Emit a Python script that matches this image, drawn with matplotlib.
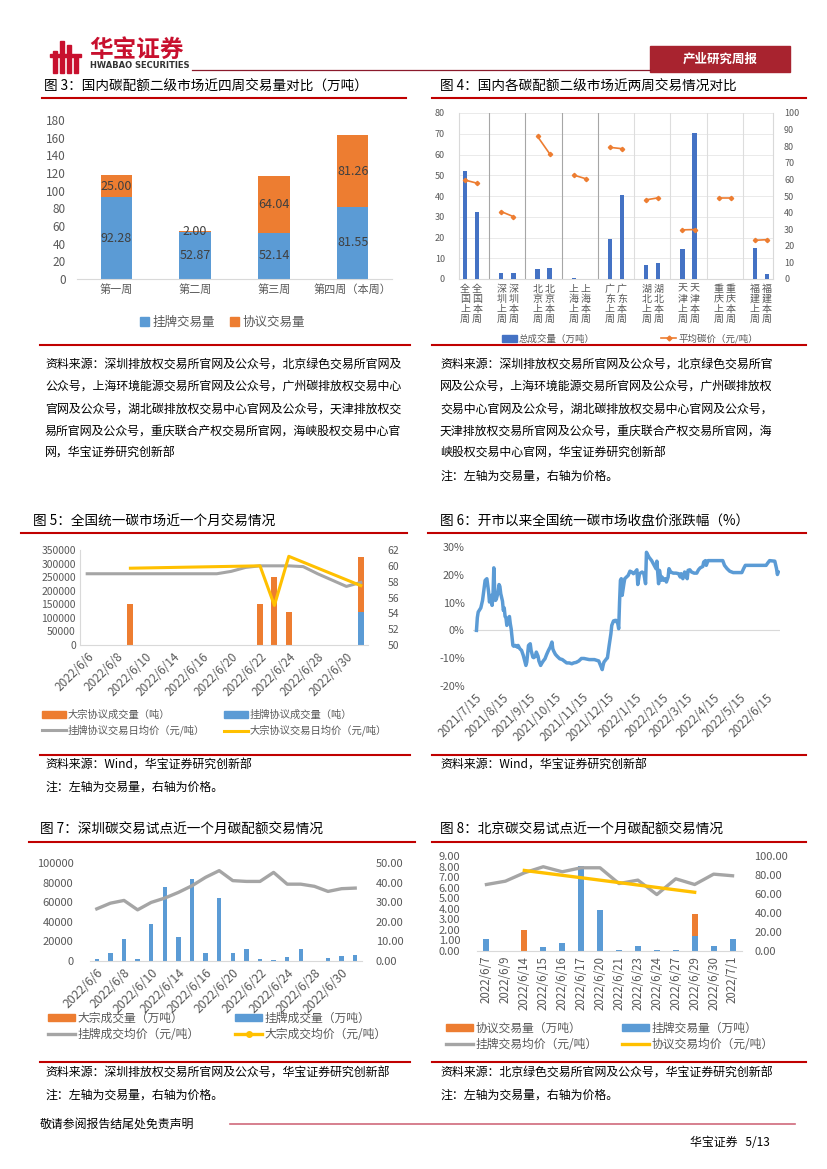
import numpy as np
import pandas as pd
import matplotlib
matplotlib.use('Agg')
import matplotlib.pyplot as plt
from matplotlib.lines import Line2D
from matplotlib.patches import Patch, Rectangle

plt.rcParams['font.family'] = ['Noto Sans CJK SC', 'DejaVu Sans']

W, H = 827, 1169
RED = '#C00000'
BLUE = '#5B9BD5'
ORANGE = '#ED7D31'
GRAY = '#A5A5A5'
YELLOW = '#FFC000'
TICK = '#595959'

# ---- figure 3: four-week volumes (万吨)
weeks = ['第一周', '第二周', '第三周', '第四周（本周）']
listed_wk = [92.28, 52.87, 52.14, 81.55]
agree_wk = [25.00, 2.00, 64.04, 81.26]

# ---- figure 4: pilot markets, last week vs this week
markets = ['全国', '深圳', '北京', '上海', '广东', '湖北', '天津', '重庆', '福建']
vol_last = [52.2, 2.7, 4.7, 0.5, 19.3, 6.8, 14.3, 0.0, 15.0]
vol_this = [32.4, 2.8, 5.2, 0.0, 40.3, 7.7, 70.6, 0.0, 2.4]
price_last = [59.6, 40.6, 85.9, 62.6, 79.3, 47.7, 29.6, 48.9, 23.3]
price_this = [57.7, 37.6, 75.5, 60.4, 78.5, 48.9, 29.8, 48.9, 23.7]

# ---- figure 5 / 7: trading days
days_jun = ['2022/6/6', '2022/6/7', '2022/6/8', '2022/6/9', '2022/6/10', '2022/6/13',
            '2022/6/14', '2022/6/15', '2022/6/16', '2022/6/17', '2022/6/20', '2022/6/21',
            '2022/6/22', '2022/6/23', '2022/6/24', '2022/6/27', '2022/6/28', '2022/6/29',
            '2022/6/30', '2022/7/1']
block_vol5 = [0, 0, 0, 150000, 0, 0, 0, 0, 0, 0, 0, 0, 150000, 250000, 120000, 0, 0, 0, 0, 203000]
listed_vol5 = [0, 0, 0, 0, 0, 0, 0, 0, 0, 0, 0, 0, 0, 0, 0, 0, 0, 0, 0, 122000]
listed_price5 = [59.0, 59.0, 59.0, 59.0, 59.0, 59.0, 59.0, 59.0, 59.0, 59.0, 59.3, 59.8,
                 60.0, 60.0, 60.0, 59.9, 59.0, 58.2, 57.4, 57.9]
block_price5 = [None, None, None, 59.7, None, None, None, None, None, None, None, None,
                60.0, 55.0, 61.2, None, None, None, None, 57.5]

listed_vol7 = [1700, 8500, 22200, 1700, 37500, 75400, 24200, 83600, 7800, 64200,
               7800, 11900, 1700, 1000, 3800, 12300, 300, 2700, 5500, 6100]
block_vol7 = [0] * 20
listed_price7 = [26.6, 29.5, 30.9, 26.1, 29.9, 32.1, 35.0, 38.4, 42.7, 46.1,
                 41.0, 40.6, 40.6, 45.2, 39.2, 39.2, 38.1, 35.5, 36.9, 37.2]

# ---- figure 6: close price change since opening (%), days after 2021/7/15
days6 = [1, 2, 3, 6, 8, 10, 11, 13, 14, 15, 16, 18, 19, 20, 21, 22, 23, 24, 26, 27, 28, 29,
         31, 32, 33, 34, 35, 36, 38, 39, 40, 41, 42, 43, 44, 46, 48, 49, 51, 53, 55, 56, 58,
         59, 60, 61, 63, 64, 66, 67, 69, 70, 72, 73, 75, 76, 78, 80, 82, 84, 86, 88, 89, 90,
         92, 94, 97, 100, 102, 105, 108, 111, 113, 116, 119, 122, 125, 128, 131, 134, 137,
         140, 142, 144, 146, 147, 148, 149, 151, 152, 154, 156, 157, 159, 161, 162, 164, 165,
         166, 167, 168, 169, 171, 172, 174, 176, 178, 180, 182, 184, 186, 187, 189, 190, 192,
         194, 196, 197, 198, 200, 203, 206, 208, 209, 211, 212, 214, 215, 217, 219, 220, 222,
         223, 225, 228, 231, 234, 236, 237, 239, 241, 242, 244, 245, 247, 249, 252, 255, 257,
         259, 262, 263, 265, 266, 268, 274, 282, 285, 287, 290, 293, 297, 307, 309, 311, 320,
         335, 337, 339, 345, 347, 348, 349]
chg6 = [0.0, 4.6, 6.6, 8.1, 10.8, 15.6, 18.0, 18.6, 16.2, 13.8, 10.2, 12.6, 9.0, 12.0, 22.5,
        14.4, 10.8, 11.4, 13.8, 16.5, 15.8, 13.2, 10.5, 7.2, 8.1, 5.0, 4.6, 1.8, 4.2, 5.0, 2.4,
        0.6, -2.4, -5.4, -5.7, -5.4, -6.0, -5.4, -6.6, -7.2, -9.0, -10.2, -12.6, -11.4, -8.4,
        -5.4, -4.8, -7.2, -9.6, -9.8, -9.3, -7.8, -9.3, -11.0, -12.6, -12.0, -11.0, -10.2,
        -8.6, -7.2, -6.0, -4.2, -6.6, -7.4, -8.6, -9.3, -10.2, -10.5, -11.0, -11.7, -11.7,
        -12.0, -11.7, -11.5, -11.0, -10.1, -10.1, -10.3, -10.5, -10.5, -10.5, -10.8, -11.0,
        -12.6, -14.1, -12.6, -11.4, -11.0, -10.2, -9.9, -5.4, -1.2, 1.8, 3.4, 3.6, 3.6, 2.4,
        0.6, 10.2, 18.0, 18.6, 12.6, 16.8, 18.6, 19.2, 19.8, 21.3, 21.0, 20.4, 21.0, 21.8,
        16.5, 20.4, 20.6, 21.0, 20.4, 16.8, 28.1, 27.5, 26.3, 25.1, 23.4, 22.2, 24.9, 16.8,
        21.6, 18.0, 19.2, 18.0, 18.6, 17.4, 19.2, 22.2, 21.0, 20.6, 20.6, 20.4, 19.2, 20.4,
        18.6, 21.0, 20.4, 18.6, 21.6, 21.8, 21.0, 20.6, 20.6, 21.8, 22.5, 23.0, 24.6, 25.1,
        23.4, 25.1, 25.1, 25.1, 25.1, 23.4, 22.2, 21.3, 20.8, 20.8, 22.2, 23.4, 23.4, 23.4,
        24.3, 25.1, 24.9, 22.2, 20.1, 21.0]
month_ticks6 = ['2021/7/15', '2021/8/15', '2021/9/15', '2021/10/15', '2021/11/15', '2021/12/15',
                '2022/1/15', '2022/2/15', '2022/3/15', '2022/4/15', '2022/5/15', '2022/6/15']

# ---- figure 8: Beijing pilot
days8 = ['2022/6/7', '2022/6/9', '2022/6/14', '2022/6/15', '2022/6/16', '2022/6/17', '2022/6/20',
         '2022/6/21', '2022/6/23', '2022/6/24', '2022/6/27', '2022/6/29', '2022/6/30', '2022/7/1']
listed_vol8 = [1.15, 0.03, 0.0, 0.35, 0.73, 8.05, 3.91, 0.10, 0.44, 0.06, 0.06, 1.45, 0.44, 1.14]
agree_vol8 = [0, 0, 1.95, 0, 0, 0, 0, 0, 0, 0, 0, 2.05, 0, 0]
listed_price8 = [70.0, 73.5, 82.3, 88.7, 83.4, 87.6, 87.6, 71.0, 74.6, 59.4, 76.0, 70.0, 80.9, 79.2]
agree_price8 = [None, None, 84.8, None, None, None, None, None, None, None, None, 61.8, None, None]

src_34_left = ['资料来源：深圳排放权交易所官网及公众号，北京绿色交易所官网及',
               '公众号，上海环境能源交易所官网及公众号，广州碳排放权交易中心',
               '官网及公众号，湖北碳排放权交易中心官网及公众号，天津排放权交',
               '易所官网及公众号，重庆联合产权交易所官网，海峡股权交易中心官',
               '网，华宝证券研究创新部']
src_34_right = ['资料来源：深圳排放权交易所官网及公众号，北京绿色交易所官',
                '网及公众号，上海环境能源交易所官网及公众号，广州碳排放权',
                '交易中心官网及公众号，湖北碳排放权交易中心官网及公众号，',
                '天津排放权交易所官网及公众号，重庆联合产权交易所官网，海',
                '峡股权交易中心官网，华宝证券研究创新部',
                '注：左轴为交易量，右轴为价格。']
note = '注：左轴为交易量，右轴为价格。'

fig = plt.figure(figsize=(W / 100, H / 100), dpi=100)
fig.patch.set_facecolor('white')


def px_axes(x0, y0, x1, y1):
    return fig.add_axes([x0 / W, 1 - y1 / H, (x1 - x0) / W, (y1 - y0) / H])


def hline(x0, x1, y, color=RED, lw=1.5):
    fig.add_artist(Line2D([x0 / W, x1 / W], [1 - y / H, 1 - y / H],
                          transform=fig.transFigure, color=color, lw=lw))


def ftext(x, y, s, **kw):
    kw.setdefault('va', 'center')
    kw.setdefault('ha', 'left')
    fig.text(x / W, 1 - y / H, s, **kw)


def clean(ax, left=False, bottom=True):
    for side in ['top', 'right', 'left', 'bottom']:
        ax.spines[side].set_visible(False)
    if bottom:
        ax.spines['bottom'].set_visible(True)
        ax.spines['bottom'].set_color('#D9D9D9')
    if left:
        ax.spines['left'].set_visible(True)
        ax.spines['left'].set_color('#D9D9D9')
    ax.tick_params(length=0, colors=TICK)


def legend_at(handles, labels, x, y, size, **kw):
    leg = fig.legend(handles, labels, loc='upper left', bbox_to_anchor=(x / W, 1 - y / H),
                     frameon=False, fontsize=size, borderaxespad=0, borderpad=0,
                     labelcolor=TICK, **kw)
    return leg


# ---------------- header ----------------
for bx, bh in [(53, 22), (60, 32), (67, 28), (74, 18)]:
    fig.add_artist(Rectangle((bx / W, 1 - 73 / H), 3.5 / W, bh / H, transform=fig.transFigure,
                             color='#C8102E'))
fig.add_artist(Rectangle((50 / W, 1 - 57 / H), 31 / W, 3 / H, transform=fig.transFigure,
                         color='#C8102E'))
ftext(89, 50, '华宝证券', fontsize=17, color='#C8102E', fontweight='bold')
ftext(90, 66, 'HWABAO SECURITIES', fontsize=6, color='#333333', fontweight='bold',
      family='DejaVu Sans')
hline(192, 650, 70, color='#8B1A2B', lw=0.9)
fig.add_artist(Rectangle((650 / W, 1 - 72 / H), 140 / W, 26 / H, transform=fig.transFigure,
                         color='#A8232F'))
ftext(720, 59, '产业研究周报', fontsize=9, color='white', ha='center', fontweight='bold')

# ---------------- titles ----------------
TS = 9.8
ftext(44, 86, '图 3：国内碳配额二级市场近四周交易量对比（万吨）', fontsize=TS)
ftext(440, 86, '图 4：国内各碳配额二级市场近两周交易情况对比', fontsize=TS)
hline(42, 406, 98)
hline(432, 806, 98)
ftext(33, 521, '图 5：全国统一碳市场近一个月交易情况', fontsize=TS)
ftext(440, 521, '图 6：开市以来全国统一碳市场收盘价涨跌幅（%）', fontsize=TS)
hline(21, 407, 533)
hline(428, 806, 533)
ftext(40, 829, '图 7：深圳碳交易试点近一个月碳配额交易情况', fontsize=TS)
ftext(440, 829, '图 8：北京碳交易试点近一个月碳配额交易情况', fontsize=TS)
hline(29, 415, 842)
hline(432, 806, 842)

# ---------------- figure 3 ----------------
ax3 = px_axes(77, 120, 392, 279)
x3 = np.arange(len(weeks))
b1 = ax3.bar(x3, listed_wk, width=0.4, color=BLUE)
b2 = ax3.bar(x3, agree_wk, width=0.4, bottom=listed_wk, color=ORANGE)
ax3.bar_label(b1, fmt='%.2f', label_type='center', fontsize=9, color='#404040')
ax3.bar_label(b2, fmt='%.2f', label_type='center', fontsize=9, color='#404040')
ax3.set_ylim(0, 180)
ax3.set_xlim(-0.5, 3.5)
ax3.set_yticks(range(0, 181, 20))
ax3.set_xticks(x3)
ax3.set_xticklabels(weeks, fontsize=8)
ax3.tick_params(axis='y', labelsize=8.5, pad=8)
clean(ax3)
legend_at([Patch(color=BLUE), Patch(color=ORANGE)], ['挂牌交易量', '协议交易量'], 140, 316, 9,
          ncol=2, handlelength=0.7, handleheight=0.7, handletextpad=0.3, columnspacing=1.2)

# ---------------- figure 4 ----------------
ax4 = px_axes(459, 113, 773, 279)
pos_last = [3 * g for g in range(len(markets))]
pos_this = [3 * g + 1 for g in range(len(markets))]
ax4.bar(pos_last, vol_last, width=0.36, color='#4472C4', zorder=3)
ax4.bar(pos_this, vol_this, width=0.36, color='#4472C4', zorder=3)
ax4.set_xlim(-0.5, 25.5)
ax4.set_ylim(0, 80)
ax4.set_yticks(range(0, 81, 10))
ax4.yaxis.grid(True, color='#E6E6E6', lw=0.6)
ax4.set_axisbelow(True)
for g in range(len(markets) - 1):
    ax4.axvline(3 * g + 2, color='#A6A6A6' if g < 4 else '#DDDDDD', lw=0.8, zorder=2)
ticks4 = []
labels4 = []
for g, m in enumerate(markets):
    ticks4 += [3 * g, 3 * g + 1]
    labels4 += ['\n'.join(m + '上周'), '\n'.join(m + '本周')]
ax4.set_xticks(ticks4)
ax4.set_xticklabels(labels4, fontsize=7.2, linespacing=1.0)
ax4.tick_params(axis='y', labelsize=6.5, pad=10)
clean(ax4, left=True)
ax4.spines['right'].set_visible(True)
ax4.spines['right'].set_color('#D9D9D9')
ax4b = ax4.twinx()
for g in range(len(markets)):
    ax4b.plot([pos_last[g], pos_this[g]], [price_last[g], price_this[g]], color=ORANGE, lw=1.2,
              marker='D', markersize=2.2)
ax4b.set_ylim(0, 100)
ax4b.set_yticks(range(0, 101, 10))
ax4b.tick_params(axis='y', labelsize=6.5, pad=8)
clean(ax4b, bottom=False)
legend_at([Patch(color='#4472C4'), Line2D([], [], color=ORANGE, marker='D', markersize=2.5, lw=1.2)],
          ['总成交量（万吨）', '平均碳价（元/吨）'], 502, 334, 6.8, ncol=2,
          handlelength=1.6, handleheight=0.7, handletextpad=0.2, columnspacing=7.0)

# source text 3/4
SS = 8.6
hline(40, 410, 345)
hline(432, 806, 345)
for i, s in enumerate(src_34_left):
    ftext(45, 364 + 22.4 * i, s, fontsize=SS)
for i, s in enumerate(src_34_right):
    ftext(440, 364 + 22.4 * i, s, fontsize=SS)

# ---------------- figure 5 ----------------
ax5 = px_axes(80, 550, 368, 645)
x5 = np.arange(len(days_jun))
ax5.bar(x5, listed_vol5, width=0.42, color=BLUE)
ax5.bar(x5, block_vol5, width=0.42, bottom=listed_vol5, color=ORANGE)
ax5.set_xlim(-0.5, 19.5)
ax5.set_ylim(0, 350000)
ax5.set_yticks(range(0, 350001, 50000))
ax5.set_xticks(x5[::2])
ax5.set_xticklabels(days_jun[::2], rotation=45, ha='right', rotation_mode='anchor', fontsize=8.5)
ax5.tick_params(axis='y', labelsize=7.5, pad=3)
clean(ax5, left=True)
ax5b = ax5.twinx()
ax5b.plot(x5, listed_price5, color=GRAY, lw=2.2)
bp = [(i, v) for i, v in enumerate(block_price5) if v is not None]
ax5b.plot([p[0] for p in bp], [p[1] for p in bp], color=YELLOW, lw=2.2)
ax5b.set_ylim(50, 62)
ax5b.set_yticks(range(50, 63, 2))
ax5b.tick_params(axis='y', labelsize=7.5, pad=14)
clean(ax5b, bottom=False)
legend_at([Patch(color=ORANGE), Line2D([], [], color=GRAY, lw=2.2)],
          ['大宗协议成交量（吨）', '挂牌协议交易日均价（元/吨）'], 42, 710, 7.4,
          handlelength=2.3, handleheight=0.55, handletextpad=0.2, labelspacing=0.45)
legend_at([Patch(color=BLUE), Line2D([], [], color=YELLOW, lw=2.2)],
          ['挂牌协议成交量（吨）', '大宗协议交易日均价（元/吨）'], 224, 710, 7.4,
          handlelength=2.3, handleheight=0.55, handletextpad=0.2, labelspacing=0.45)

# ---------------- figure 6 ----------------
ax6 = px_axes(473, 547, 780, 686)
base6 = pd.Timestamp('2021-07-15')
dates6 = base6 + pd.to_timedelta(days6, unit='D')
ax6.plot(dates6, chg6, color=BLUE, lw=2.5, zorder=3)
ax6.axhline(0, color='#D9D9D9', lw=0.8, zorder=1)
ax6.set_ylim(-20, 30)
ax6.set_yticks(range(-20, 31, 10))
ax6.set_yticklabels([f'{v}%' for v in range(-20, 31, 10)])
ax6.set_xlim(base6 - pd.Timedelta(days=3), base6 + pd.Timedelta(days=351))
ax6.set_xticks(pd.to_datetime(month_ticks6, format='%Y/%m/%d'))
ax6.set_xticklabels(month_ticks6, rotation=45, ha='right', rotation_mode='anchor', fontsize=8.5)
ax6.tick_params(axis='y', labelsize=7.8, pad=6)
clean(ax6, bottom=False)

hline(40, 410, 755)
hline(432, 806, 755)
ftext(45, 765, '资料来源：Wind，华宝证券研究创新部', fontsize=SS)
ftext(45, 787, note, fontsize=SS)
ftext(440, 765, '资料来源：Wind，华宝证券研究创新部', fontsize=SS)

# ---------------- figure 7 ----------------
ax7 = px_axes(90, 863, 362, 961)
x7 = np.arange(len(days_jun))
ax7.bar(x7, listed_vol7, width=0.32, color=BLUE)
ax7.bar(x7, block_vol7, width=0.32, bottom=listed_vol7, color=ORANGE)
ax7.set_xlim(-0.5, 19.5)
ax7.set_ylim(0, 100000)
ax7.set_yticks(range(0, 100001, 20000))
ax7.set_xticks(x7[::2])
ax7.set_xticklabels(days_jun[::2], rotation=45, ha='right', rotation_mode='anchor', fontsize=8.8)
ax7.tick_params(axis='y', labelsize=8, pad=12)
clean(ax7)
ax7b = ax7.twinx()
ax7b.plot(x7, listed_price7, color=GRAY, lw=2.4)
ax7b.set_ylim(0, 50)
ax7b.set_yticks(range(0, 51, 10))
ax7b.set_yticklabels([f'{v:.2f}' for v in range(0, 51, 10)])
ax7b.tick_params(axis='y', labelsize=8, pad=10)
clean(ax7b, bottom=False)
legend_at([Patch(color=ORANGE), Line2D([], [], color=GRAY, lw=2.4)],
          ['大宗成交量（万吨）', '挂牌成交均价（元/吨）'], 48, 1012, 8.5,
          handlelength=2.3, handleheight=0.5, handletextpad=0.2, labelspacing=0.25)
legend_at([Patch(color=BLUE), Line2D([], [], color=YELLOW, lw=2.4, marker='o', markersize=4)],
          ['挂牌成交量（万吨）', '大宗成交均价（元/吨）'], 235, 1012, 8.5,
          handlelength=2.3, handleheight=0.5, handletextpad=0.2, labelspacing=0.25)

# ---------------- figure 8 ----------------
ax8 = px_axes(477, 856, 742, 951)
x8 = np.arange(len(days8))
ax8.bar(x8, listed_vol8, width=0.32, color=BLUE)
ax8.bar(x8, agree_vol8, width=0.32, bottom=listed_vol8, color=ORANGE)
ax8.set_xlim(-0.5, 13.5)
ax8.set_ylim(0, 9)
ax8.set_yticks(range(0, 10))
ax8.set_yticklabels([f'{v:.2f}' for v in range(0, 10)])
ax8.set_xticks(x8)
ax8.set_xticklabels(days8, rotation=90, fontsize=8.3)
ax8.tick_params(axis='y', labelsize=8, pad=12)
clean(ax8)
ax8b = ax8.twinx()
ax8b.plot(x8, listed_price8, color=GRAY, lw=2.4)
ap = [(i, v) for i, v in enumerate(agree_price8) if v is not None]
ax8b.plot([p[0] for p in ap], [p[1] for p in ap], color=YELLOW, lw=2.4)
ax8b.set_ylim(0, 100)
ax8b.set_yticks(range(0, 101, 20))
ax8b.set_yticklabels([f'{v:.2f}' for v in range(0, 101, 20)])
ax8b.tick_params(axis='y', labelsize=8, pad=9)
clean(ax8b, bottom=False)
legend_at([Patch(color=ORANGE), Line2D([], [], color=GRAY, lw=2.4)],
          ['协议交易量（万吨）', '挂牌交易均价（元/吨）'], 446, 1022, 8.5,
          handlelength=2.3, handleheight=0.5, handletextpad=0.2, labelspacing=0.25)
legend_at([Patch(color=BLUE), Line2D([], [], color=YELLOW, lw=2.4)],
          ['挂牌交易量（万吨）', '协议交易均价（元/吨）'], 622, 1022, 8.5,
          handlelength=2.3, handleheight=0.5, handletextpad=0.2, labelspacing=0.25)

hline(40, 410, 1062)
hline(432, 806, 1062)
ftext(45, 1073, '资料来源：深圳排放权交易所官网及公众号，华宝证券研究创新部', fontsize=SS)
ftext(45, 1095, note, fontsize=SS)
ftext(440, 1073, '资料来源：北京绿色交易所官网及公众号，华宝证券研究创新部', fontsize=SS)
ftext(440, 1095, note, fontsize=SS)

# ---------------- footer ----------------
ftext(40, 1124, '敬请参阅报告结尾处免责声明', fontsize=SS)
hline(230, 795, 1124, color='#D06A7C', lw=1.2)
ftext(690, 1142, '华宝证券   5/13', fontsize=SS)

fig.savefig('out.png', dpi=100, facecolor='white')
